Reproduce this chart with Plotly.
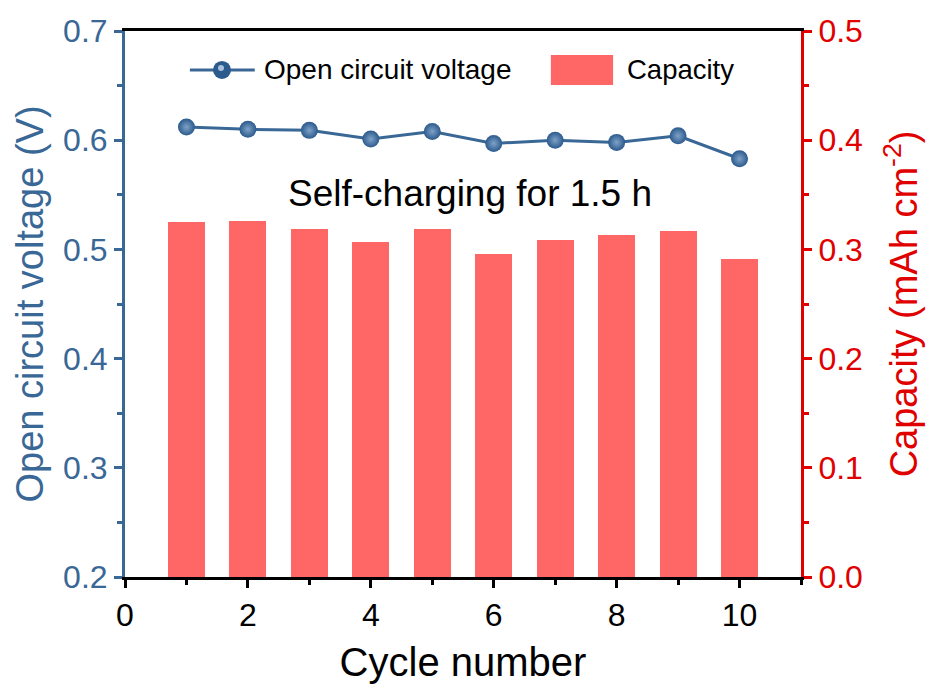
import plotly.graph_objects as go

# Cycle index and measured values
cycles = [1, 2, 3, 4, 5, 6, 7, 8, 9, 10]
ocv = [0.612, 0.610, 0.609, 0.601, 0.608, 0.597, 0.600, 0.598, 0.604, 0.583]
capacity = [0.325, 0.326, 0.319, 0.307, 0.319, 0.296, 0.309, 0.313, 0.317, 0.291]

x_ticks = [0, 2, 4, 6, 8, 10]
left_ticks = [0.2, 0.3, 0.4, 0.5, 0.6, 0.7]
right_ticks = [0.0, 0.1, 0.2, 0.3, 0.4, 0.5]

BLUE = "#3A6896"
MARK = "#2B5A8C"
RED = "#E00000"
BAR = "#FF6666"
FONT = "Liberation Sans, Arial, sans-serif"

fig = go.Figure()

fig.add_trace(go.Bar(
    x=cycles, y=capacity, yaxis="y2", name="Capacity",
    width=0.6, marker=dict(color=BAR, line=dict(width=0)),
    showlegend=False,
))

fig.add_trace(go.Scatter(
    x=cycles, y=ocv, yaxis="y", name="Open circuit voltage",
    mode="lines+markers",
    line=dict(color=BLUE, width=3),
    marker=dict(size=17, color=MARK, line=dict(width=0),
                gradient=dict(type="radial", color="#7FA2C8")),
    showlegend=False,
))

# Hand-drawn legend (paper coordinates)
shapes = [
    dict(type="line", xref="paper", yref="paper", x0=0.096, x1=0.192, y0=0.9286, y1=0.9286,
         line=dict(color=BLUE, width=3)),
    dict(type="circle", xref="paper", yref="paper", x0=0.1435 - 9/676, x1=0.1435 + 9/676,
         y0=0.9286 - 9/546, y1=0.9286 + 9/546, fillcolor=MARK, line=dict(width=0)),
    dict(type="circle", xref="paper", yref="paper", x0=0.1435 - 4/676, x1=0.1435 + 2/676,
         y0=0.9286 - 1/546, y1=0.9286 + 5/546, fillcolor="#A9C0DC", line=dict(width=0)),
    dict(type="rect", xref="paper", yref="paper", x0=0.630, x1=0.722, y0=0.901, y1=0.956,
         fillcolor=BAR, line=dict(width=0)),
]

annotations = [
    dict(text="Open circuit voltage", xref="paper", yref="paper", x=0.2027, y=0.9286,
         xanchor="left", yanchor="middle", showarrow=False,
         font=dict(family=FONT, size=28, color="black")),
    dict(text="Capacity", xref="paper", yref="paper", x=0.7396, y=0.9286,
         xanchor="left", yanchor="middle", showarrow=False,
         font=dict(family=FONT, size=27.5, color="black")),
    dict(text="Self-charging for 1.5 h", xref="paper", yref="paper", x=0.510, y=0.703,
         xanchor="center", yanchor="middle", showarrow=False,
         font=dict(family=FONT, size=37, color="black")),
]

fig.update_layout(
    width=931, height=695,
    margin=dict(l=125, r=130, t=31, b=118),
    paper_bgcolor="white", plot_bgcolor="white",
    font=dict(family=FONT),
    bargap=0,
    shapes=shapes,
    annotations=annotations,
    xaxis=dict(
        range=[0, 11], tickvals=x_ticks, ticks="outside", ticklen=8, tickwidth=2.5,
        tickcolor="black", showline=True, linecolor="black", linewidth=3, mirror=True,
        showgrid=False, zeroline=False,
        minor=dict(dtick=1, tick0=0, ticks="outside", ticklen=5, tickwidth=2.5, tickcolor="black"),
        tickfont=dict(family=FONT, size=32, color="black"),
        title=dict(text="Cycle number", font=dict(family=FONT, size=40, color="black"), standoff=16),
    ),
    yaxis=dict(
        range=[0.2, 0.7], tickvals=left_ticks, ticktext=[f"{v:.1f}" for v in left_ticks],
        ticks="outside", ticklen=8, tickwidth=2.5, tickcolor=BLUE,
        showline=True, linecolor=BLUE, linewidth=3, showgrid=False, zeroline=False,
        minor=dict(dtick=0.05, tick0=0.2, ticks="outside", ticklen=5, tickwidth=2.5, tickcolor=BLUE),
        tickfont=dict(family=FONT, size=32, color=BLUE),
        title=dict(text="Open circuit voltage (V)", font=dict(family=FONT, size=38, color=BLUE), standoff=8),
    ),
    yaxis2=dict(
        range=[0, 0.5], tickvals=right_ticks, ticktext=[f"{v:.1f}" for v in right_ticks],
        overlaying="y", side="right",
        ticks="outside", ticklen=8, tickwidth=2.5, tickcolor=RED,
        showline=True, linecolor=RED, linewidth=3, showgrid=False, zeroline=False,
        minor=dict(dtick=0.05, tick0=0, ticks="outside", ticklen=5, tickwidth=2.5, tickcolor=RED),
        tickfont=dict(family=FONT, size=32, color=RED),
        title=dict(text="Capacity (mAh cm<sup>-2</sup>)", font=dict(family=FONT, size=38, color=RED), standoff=29),
    ),
)

fig.write_html("out.html")
